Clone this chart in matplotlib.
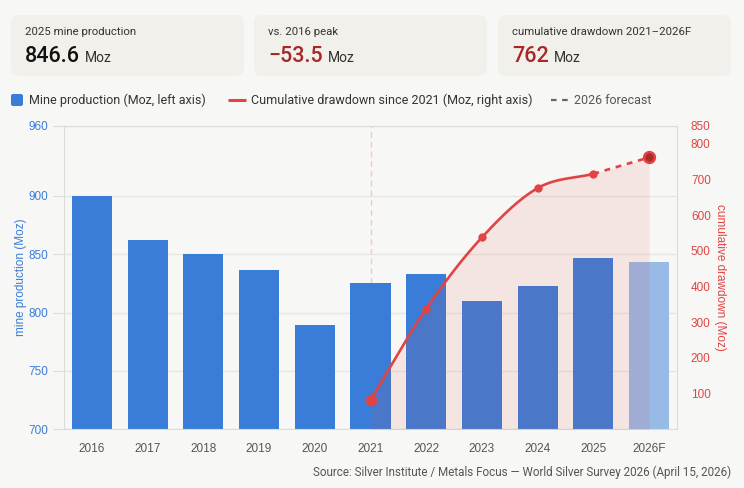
import numpy as np
import matplotlib
matplotlib.use('Agg')
import matplotlib.pyplot as plt
from matplotlib.patches import FancyBboxPatch

# data
years = ['2016', '2017', '2018', '2019', '2020', '2021', '2022', '2023', '2024', '2025', '2026F']
production = [900.1, 862.1, 850.0, 836.6, 789.7, 825.0, 833.2, 810.0, 823.2, 846.6, 843.5]
drawdown_years = ['2021', '2022', '2023', '2024', '2025', '2026F']
drawdown = [82, 338, 538, 676, 716, 762]
left_ticks = [700, 750, 800, 850, 900, 960]
right_ticks = [100, 200, 300, 400, 500, 600, 700, 800, 850]

cards = [('2025 mine production', '846.6', '#111111'),
         ('vs. 2016 peak', '\u221253.5', '#a82828'),
         ('cumulative drawdown 2021\u20132026F', '762', '#a82828')]

BG = '#f7f7f5'
CARD = '#f1f0ea'
BLUE = '#3a7dd8'
RED = '#e04444'
GREY = '#555555'
TICKFONT = ['Liberation Sans', 'DejaVu Sans']

plt.rcParams['font.family'] = ['Roboto', 'DejaVu Sans']


def monotone(x, y, n=40):
    # Fritsch-Carlson monotone cubic, used only to draw the smooth line
    x = np.asarray(x, float)
    y = np.asarray(y, float)
    h = np.diff(x)
    d = np.diff(y) / h
    m = np.zeros_like(y)
    m[0], m[-1] = d[0], d[-1]
    for i in range(1, len(y) - 1):
        if d[i - 1] * d[i] <= 0:
            m[i] = 0
        else:
            m[i] = (d[i - 1] + d[i]) / 2
    for i in range(len(d)):
        if d[i] == 0:
            m[i] = m[i + 1] = 0
            continue
        a, b = m[i] / d[i], m[i + 1] / d[i]
        s = a * a + b * b
        if s > 9:
            t = 3 / np.sqrt(s)
            m[i], m[i + 1] = t * a * d[i], t * b * d[i]
    xs, ys = [], []
    for i in range(len(d)):
        t = np.linspace(0, 1, n, endpoint=(i == len(d) - 1))
        h00 = 2 * t**3 - 3 * t**2 + 1
        h10 = t**3 - 2 * t**2 + t
        h01 = -2 * t**3 + 3 * t**2
        h11 = t**3 - t**2
        xs.append(x[i] + t * h[i])
        ys.append(h00 * y[i] + h10 * h[i] * m[i] + h01 * y[i + 1] + h11 * h[i] * m[i + 1])
    return np.concatenate(xs), np.concatenate(ys)


fig = plt.figure(figsize=(7.44, 4.88), dpi=100, facecolor=BG)

# overlay in pixel coordinates for cards, legend, source
over = fig.add_axes([0, 0, 1, 1], zorder=0)
over.set_xlim(0, 744)
over.set_ylim(488, 0)
over.axis('off')
over.patch.set_alpha(0)

card_x = [11, 254, 498]
renderer = fig.canvas.get_renderer()
for cx, (lab, val, col) in zip(card_x, cards):
    over.add_patch(FancyBboxPatch((cx, 15), 233, 61, boxstyle='round,pad=0,rounding_size=8',
                                  fc=CARD, ec='none'))
    over.text(cx + 14, 32, lab, fontsize=8.2, color='#333333', va='center', ha='left')
    t = over.text(cx + 14, 62, val, fontsize=15.5, color=col, fontweight='medium',
                  va='baseline', ha='left')
    bb = t.get_window_extent(renderer)
    mx = over.transData.inverted().transform((bb.x1, 0))[0]
    over.text(mx + 5, 62, 'Moz', fontsize=10, color='#333333', va='baseline', ha='left')

# legend
over.add_patch(FancyBboxPatch((11, 94), 12, 12, boxstyle='round,pad=0,rounding_size=2',
                              fc=BLUE, ec='none'))
over.text(29, 100, 'Mine production (Moz, left axis)', fontsize=9, color='#333333', va='center')
over.plot([228, 246], [100, 100], color=RED, lw=2.2, solid_capstyle='butt')
over.text(251, 100, 'Cumulative drawdown since 2021 (Moz, right axis)', fontsize=9,
          color='#333333', va='center')
over.plot([551, 568], [100, 100], color='#666666', lw=1.6, ls=(0, (2.5, 2.5)))
over.text(574, 100, '2026 forecast', fontsize=9, color=GREY, va='center')

over.text(731, 472, 'Source: Silver Institute / Metals Focus \u2014 World Silver Survey 2026 (April 15, 2026)',
          fontsize=8.4, color=GREY, va='center', ha='right')

# main chart
ax = fig.add_axes([64 / 744, 1 - 429.3 / 488, 613 / 744, 303.3 / 488], zorder=1)
ax.patch.set_alpha(0)
x = np.arange(len(years))
colors = [BLUE] * (len(years) - 1) + ['#98bae6']
ax.bar(x, production, width=0.72, color=colors, zorder=2)
ax.set_xlim(-0.5, len(years) - 0.5)
ax.set_ylim(700, 960)
ax.set_yticks(left_ticks)
ax.set_xticks(x)
ax.set_xticklabels(years)
ax.grid(axis='y', color='#e6e6e3', lw=1, zorder=0)
ax.set_axisbelow(True)
for s in ax.spines.values():
    s.set_color('#dcdcd8')
ax.tick_params(axis='y', colors='#dcdcd8', labelcolor=BLUE, length=8, labelsize=8.5, pad=3)
ax.tick_params(axis='x', length=0, labelcolor=GREY, labelsize=8.5, pad=10)
for lab in ax.get_xticklabels() + ax.get_yticklabels():
    lab.set_family(TICKFONT)
ax.set_ylabel('mine production (Moz)', color=BLUE, fontsize=8.5, labelpad=1, family=TICKFONT)

i0 = years.index(drawdown_years[0])
ax.axvline(i0, color='#f2c9c9', lw=1, ls=(0, (4, 3)), zorder=1)

ax2 = ax.twinx()
ax2.set_ylim(0, 850)
ax2.set_yticks(right_ticks)
for s in ax2.spines.values():
    s.set_visible(False)
ax2.tick_params(axis='y', length=0, labelcolor=RED, labelsize=8.5, pad=10)
for lab in ax2.get_yticklabels():
    lab.set_family(TICKFONT)
ax2.set_ylabel('cumulative drawdown (Moz)', color=RED, fontsize=8.5, rotation=270,
               labelpad=11, family=TICKFONT)

dx = np.arange(i0, i0 + len(drawdown))
sx, sy = monotone(dx[:-1], drawdown[:-1])
fx = np.append(sx, dx[-1])
fy = np.append(sy, drawdown[-1])
ax2.fill_between(fx, 0, fy, color=RED, alpha=0.1, lw=0, zorder=1)
ax2.plot(sx, sy, color=RED, lw=1.9, zorder=3, solid_capstyle='round')
ax2.plot(dx[-2:], drawdown[-2:], color=RED, lw=1.9, ls=(0, (2.2, 2.2)), zorder=3)
ax2.scatter(dx[1:-1], drawdown[1:-1], s=36, color=RED, zorder=4, lw=0)
ax2.scatter(dx[:1], drawdown[:1], s=70, color=RED, zorder=4, lw=0)
ax2.scatter(dx[-1:], drawdown[-1:], s=60, color='#b02a2a', edgecolor=RED, lw=1.8, zorder=4)

fig.savefig('out.png', dpi=100, facecolor=BG)
